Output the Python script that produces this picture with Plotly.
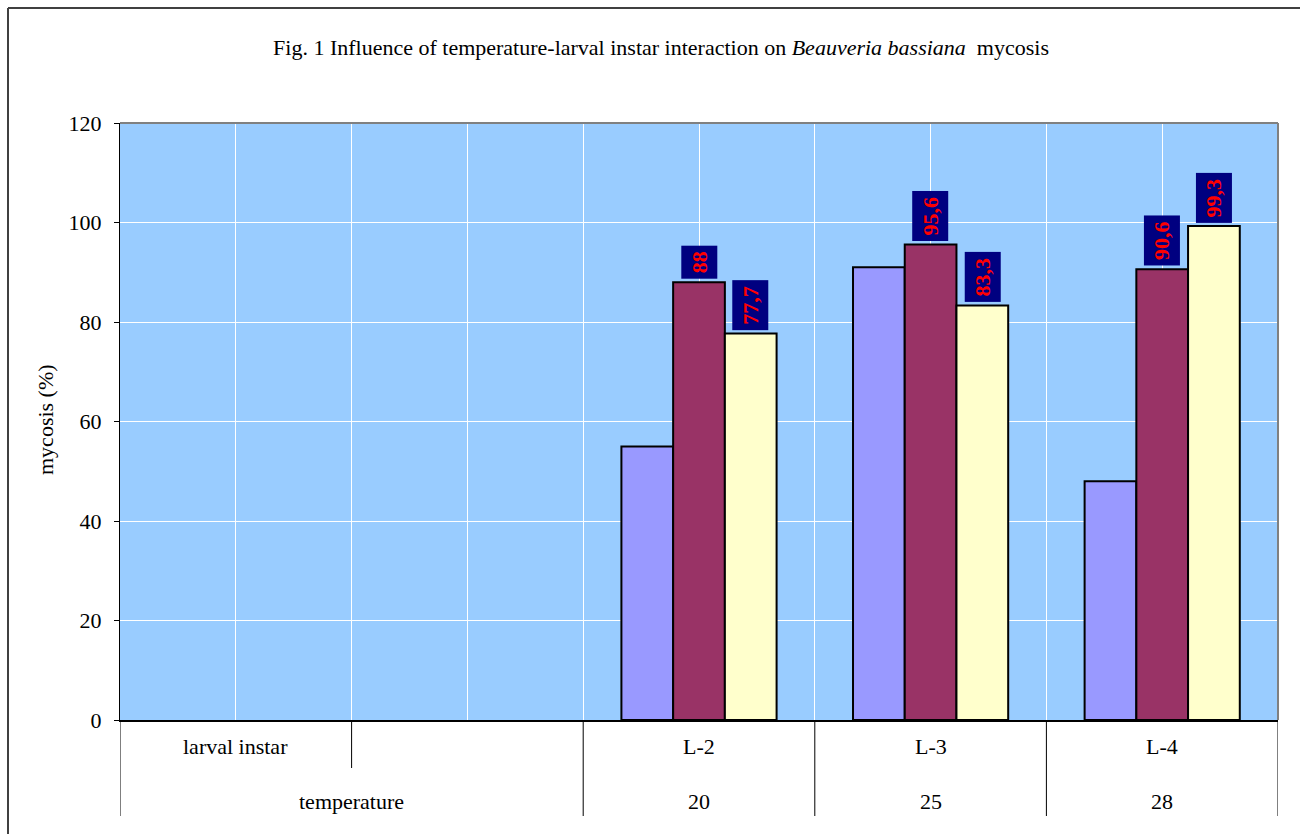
import plotly.graph_objects as go

# Category table under the axis: first two columns are header cells
header_instar = "larval instar"
header_temperature = "temperature"
instar_labels = ["L-2", "L-3", "L-4"]
temperature_labels = ["20", "25", "28"]

# Mycosis (%) for the three series in each group
series_a = [55, 91, 48]
series_b = [88, 95.6, 90.6]
series_c = [77.7, 83.3, 99.3]

series_colors = ["#9999FF", "#993366", "#FFFFCC"]
labelled = [False, True, True]

n_header = 2
n_cols = n_header + len(instar_labels)
x_idx = [n_header + i for i in range(len(instar_labels))]

BARGAP = 0.33
bar_w = (1 - BARGAP) / 3

# plot-area geometry in pixels
W, H = 1300, 834
L, R, T, B = 120, 22, 123, 114
PW = W - L - R
PH = H - T - B

SERIF = "Liberation Serif"
FS = 22

fig = go.Figure()
for k, (vals, col) in enumerate(zip([series_a, series_b, series_c], series_colors)):
    fig.add_trace(go.Bar(
        x=x_idx, y=vals, marker=dict(color=col, line=dict(color="black", width=2)),
        showlegend=False, hoverinfo="y",
    ))

annotations = []
# value labels: navy boxes, red bold text, rotated
for k, vals in enumerate([series_a, series_b, series_c]):
    if not labelled[k]:
        continue
    for xi, v in zip(x_idx, vals):
        annotations.append(dict(
            x=xi + (k - 1) * bar_w, y=v, xref="x", yref="y",
            text=f"{v:g}".replace(".", ","), showarrow=False, textangle=-90,
            xanchor="center", yanchor="bottom", yshift=3,
            bgcolor="#000080", borderpad=5,
            font=dict(family=SERIF, size=FS, color="#FF0000", weight="bold"),
        ))

# category table text
row1_y, row2_y = -26, -81
txt_font = dict(family=SERIF, size=FS, color="black")
annotations.append(dict(x=0, y=0, xref="x", yref="paper", yshift=row1_y, yanchor="middle",
                        text=header_instar, showarrow=False, font=txt_font))
annotations.append(dict(x=0.5, y=0, xref="x", yref="paper", yshift=row2_y, yanchor="middle",
                        text=header_temperature, showarrow=False, font=txt_font))
for xi, lab, tmp in zip(x_idx, instar_labels, temperature_labels):
    annotations.append(dict(x=xi, y=0, xref="x", yref="paper", yshift=row1_y, yanchor="middle",
                            text=lab, showarrow=False, font=txt_font))
    annotations.append(dict(x=xi, y=0, xref="x", yref="paper", yshift=row2_y, yanchor="middle",
                            text=tmp, showarrow=False, font=txt_font))

# y axis title
annotations.append(dict(x=(45 - L) / PW, y=(720 - 420) / PH, xref="paper", yref="paper",
                        xanchor="center", yanchor="middle", text="mycosis (%)",
                        textangle=-90, showarrow=False, font=txt_font))

shapes = []
# table separators
for xb, depth in [(-0.5, 96), (0.5, 48), (1.5, 96), (2.5, 96), (3.5, 96), (4.5, 96)]:
    shapes.append(dict(type="line", xref="x", yref="paper", ysizemode="pixel", yanchor=0,
                       x0=xb, x1=xb, y0=0, y1=-depth, line=dict(color="black", width=1)))
# plot area top/right border
shapes.append(dict(type="line", xref="paper", yref="paper", x0=0, x1=1, y0=1, y1=1,
                   line=dict(color="#808080", width=2)))
shapes.append(dict(type="line", xref="paper", yref="paper", x0=1, x1=1, y0=0, y1=1,
                   line=dict(color="#808080", width=2)))
# outer chart frame (top and left edges)
fx = (8 - L) / PW
fy = (H - B - 8) / PH
shapes.append(dict(type="line", xref="paper", yref="paper", x0=fx, x1=(W + 10 - L) / PW, y0=fy, y1=fy,
                   line=dict(color="#404040", width=2)))
shapes.append(dict(type="line", xref="paper", yref="paper", x0=fx, x1=fx, y0=fy, y1=-(B + 10) / PH,
                   line=dict(color="#404040", width=2)))

fig.update_layout(
    width=W, height=H,
    margin=dict(l=L, r=R, t=T, b=B),
    paper_bgcolor="white", plot_bgcolor="#99CCFF",
    barmode="group", bargap=BARGAP, bargroupgap=0,
    font=dict(family=SERIF, size=FS, color="black"),
    title=dict(
        text="Fig. 1 Influence of temperature-larval instar interaction on <i>Beauveria bassiana</i>  mycosis",
        x=661 / W, xanchor="center", y=1 - 47 / H, yanchor="middle",
        font=dict(family=SERIF, size=FS, color="black"),
    ),
    xaxis=dict(range=[-0.5, n_cols - 0.5], tickmode="linear", tick0=-0.5, dtick=0.5,
               showticklabels=False, ticks="", showgrid=True, gridcolor="white", gridwidth=1,
               zeroline=False, showline=True, linecolor="black", linewidth=2, fixedrange=True),
    yaxis=dict(range=[0, 120], tickmode="linear", dtick=20, ticks="outside", ticklen=5,
               tickcolor="black", showgrid=True, gridcolor="white", gridwidth=1,
               zeroline=False, showline=True, linecolor="black", linewidth=1,
               ticklabelstandoff=8,
               tickfont=dict(family=SERIF, size=FS, color="black"), fixedrange=True),
    annotations=annotations, shapes=shapes,
)

fig.write_html("out.html")
